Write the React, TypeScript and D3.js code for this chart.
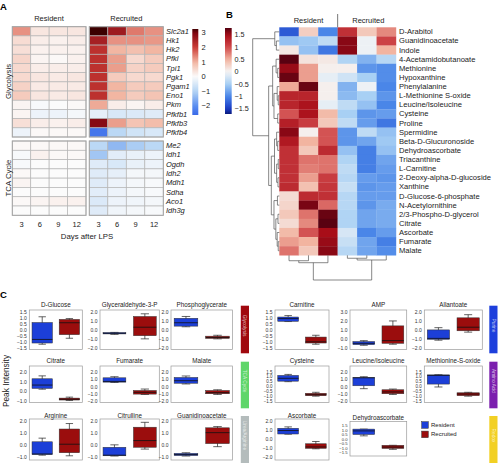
import React from "react";
import * as d3 from "d3";

const FONT = "'Liberation Sans', Arial, Helvetica, sans-serif";

// ---------- Panel A data ----------
const glyGenes = ["Slc2a1", "Hk1", "Hk2", "Pfkl", "Tpi1", "Pgk1", "Pgam1", "Eno1", "Pkm", "Pfkfb1", "Pfkfb3", "Pfkfb4"];
const tcaGenes = ["Me2", "Idh1", "Ogdh", "Idh2", "Mdh1", "Sdha", "Aco1", "Idh3g"];
const days = ["3", "6", "9", "12"];
const glyResident = [
  [1.3, 0.3, 0.3, 0.3],
  [0.45, 0.2, 0.15, 0.2],
  [0.4, 0.15, 0.15, 0.15],
  [0.55, 0.1, 0.05, 0.15],
  [0.5, 0.2, 0.2, 0.2],
  [0.5, 0.3, 0.25, 0.3],
  [0.6, 0.25, 0.25, 0.25],
  [0.7, 0.3, 0.25, 0.3],
  [0.1, -0.05, 0, 0.05],
  [0.1, -0.2, -0.2, -0.1],
  [0.4, 0.2, 0.15, 0.2],
  [-0.2, 0.05, 0.05, 0.05],
];
const glyRecruited = [
  [3.3, 2.6, 1.5, 1.3],
  [2.5, 1.3, 1.3, 1.25],
  [2.2, 1.0, 0.85, 1.0],
  [2.2, 1.2, 0.5, 0.7],
  [2.2, 1.2, 0.6, 0.7],
  [2.2, 0.7, 0.5, 0.5],
  [2.2, 1.0, 0.7, 0.7],
  [2.2, 1.0, 0.7, 0.8],
  [1.1, 0.2, 0.1, 0.2],
  [-0.3, -0.5, -0.45, -0.4],
  [2.9, 1.2, 0.8, 0.9],
  [-2.4, -0.9, -0.6, -0.5],
];
const tcaResident = [
  [0.05, 0.05, 0.05, 0.05],
  [-0.05, 0.15, 0.05, 0.05],
  [-0.05, 0, 0, 0],
  [0.05, 0, 0, 0],
  [0.1, 0, 0, 0],
  [0, 0, 0, 0],
  [0.05, 0.1, 0.15, 0.15],
  [0, 0, 0, 0],
];
const tcaRecruited = [
  [-0.9, -1.4, -1.1, -0.9],
  [-1.2, -0.35, -0.25, -0.2],
  [-0.4, -0.5, -0.25, -0.2],
  [-0.4, -0.3, -0.1, -0.1],
  [-0.4, -0.2, -0.1, -0.05],
  [-0.35, -0.2, -0.1, -0.05],
  [-0.45, -0.2, -0.15, -0.1],
  [-0.4, -0.15, -0.1, -0.05],
];
const colorbarATicks = [3, 2, 1, 0, -1, -2];

// ---------- Panel B data ----------
const metabolites = [
  "D-Arabitol", "Guanidinoacetate", "Indole", "4-Acetamidobutanoate", "Methionine", "Hypoxanthine",
  "Phenylalanine", "L-Methionine S-oxide", "Leucine/Isoleucine", "Cysteine", "Proline", "Spermidine",
  "Beta-D-Glucuronoside", "Dehydroascorbate", "Triacanthine", "L-Carnitine", "2-Deoxy-alpha-D-glucoside",
  "Xanthine", "D-Glucose-6-phosphate", "N-Acetylornithine", "2/3-Phospho-D-glycerol", "Citrate",
  "Ascorbate", "Fumarate", "Malate",
];
const metResident = [
  [-1.3, 0.3, -1.0], [-0.6, -0.55, -0.35], [0.1, -0.6, -1.1], [1.75, 0.15, 0.1], [1.55, 0.6, 0.05],
  [1.7, 0.6, -0.1], [0.55, 1.7, 0.05], [1.3, 1.3, 0.05], [1.3, 1.45, -0.1], [0.95, 1.45, 0.45],
  [1.35, 1.1, 0.35], [1.6, 0.05, 0.95], [1.4, 0.5, 0.95], [1.2, 0.35, 1.25], [1.2, 0.8, 0.8],
  [1.2, 0.75, 0.8], [1.2, 0.6, 1.1], [1.25, 0.4, 1.15], [0.2, 1.25, 1.2], [0.25, 1.65, 0.85],
  [0.35, 0.8, 1.7], [0.2, 0.7, 1.75], [0.45, 0.95, 1.5], [0.6, 0.5, 1.55], [0.8, 0.35, 1.6],
];
const metRecruited = [
  [1.2, 0.35, 0.7], [1.6, -0.05, 1.05], [1.6, -0.05, 0.5], [-0.45, -0.7, -0.4], [0.05, -0.9, -0.95],
  [-0.25, -0.5, -0.95], [-0.7, -0.05, -1.0], [-0.65, -0.5, -0.9], [-0.35, -0.6, -1.0], [-0.5, -0.9, -0.85],
  [-0.35, -0.85, -1.1], [-0.9, -0.35, -0.6], [-0.9, -0.8, -0.55], [-0.6, -1.05, -0.6], [-0.45, -1.05, -0.8],
  [-0.35, -1.05, -0.85], [-0.4, -0.85, -0.9], [-0.3, -0.9, -0.85], [-0.4, -0.85, -0.85], [-0.4, -0.9, -0.75],
  [-0.45, -0.8, -0.75], [-0.45, -0.8, -0.75], [-0.2, -1.0, -0.85], [-0.3, -0.8, -1.05], [-0.4, -0.8, -0.95],
];
const colorbarBTicks = [1.5, 1, 0.5, 0, -0.5, -1, -1.5];
type Node = number | [number, Node, Node];
const rowTree: Node = [
  1,
  [0.17, 0, [0.11, 1, 2]],
  [
    0.4,
    [0.25, [0.12, 3, [0.06, 4, 5]], [0.2, [0.08, 6, [0.04, 7, 8]], [0.06, 9, 10]]],
    [
      0.3,
      [0.18, [0.1, 11, [0.06, 12, 13]], [0.1, [0.04, 14, 15], [0.05, 16, 17]]],
      [0.2, [0.07, 18, 19], [0.13, [0.05, 20, 21], [0.08, 22, [0.04, 23, 24]]]],
    ],
  ],
];
const colTree: Node = [1, [0.3, [0.22, 0, 1], 2], [0.19, [0.12, 3, 4], 5]];

// ---------- Panel C data ----------
const boxTitles = [
  "D-Glucose", "Glyceraldehyde-3-P", "Phosphoglycerate", "Carnitine", "AMP", "Allantoate",
  "Citrate", "Fumarate", "Malate", "Cysteine", "Leucine/Isoleucine", "Methionine-S-oxide",
  "Arginine", "Citrulline", "Guanidinoacetate", "Ascorbate", "Dehydroascorbate",
];
const ticksHalf = [-1.5, -1, -0.5, 0, 0.5, 1, 1.5];
const ticksTwo = [-2, -1, 0, 1, 2];
const ticksThree = [-1, 0, 1, 2, 3];
const ticksArg = [-1, 0, 1, 2];
const boxTicks = [
  ticksHalf, ticksTwo, ticksTwo, ticksHalf, ticksThree, ticksTwo,
  ticksArg, ticksTwo, ticksTwo, ticksHalf, ticksTwo, ticksHalf,
  ticksArg, ticksArg, ticksArg, ticksTwo, ticksHalf,
];
// [low whisker, q1, median, q3, high whisker]
const residentStats = [
  [-1.2, -1.1, -0.8, 0.62, 1.1], [-0.5, -0.45, -0.38, -0.3, -0.28], [0.35, 0.42, 0.8, 1.3, 1.5],
  [0.7, 0.72, 0.95, 1.08, 1.2], [-0.72, -0.65, -0.5, -0.3, -0.2], [-1.15, -1.05, -0.95, 0.0, 0.25],
  [0.22, 0.3, 0.65, 1.3, 1.6], [0.55, 0.6, 0.7, 1.2, 1.35], [0.35, 0.45, 0.8, 1.25, 1.45],
  [0.5, 0.55, 0.85, 1.15, 1.25], [-0.3, 0.1, 1.2, 1.25, 1.35], [-0.05, 0.25, 1.15, 1.2, 1.22],
  [-0.85, -0.8, -0.75, 0.25, 0.55], [-0.92, -0.9, -0.85, -0.2, 0.0], [-0.92, -0.88, -0.8, -0.7, -0.65],
  [0.5, 0.52, 0.9, 1.15, 1.3], [0.35, 0.5, 0.9, 1.1, 1.1],
];
const recruitedStats = [
  [-0.7, -0.4, 0.6, 0.88, 0.95], [-1.0, -0.65, 0.3, 1.5, 1.8], [-1.0, -0.95, -0.85, -0.7, -0.6],
  [-1.2, -1.1, -1.0, -0.6, -0.45], [-0.6, -0.5, -0.2, 1.45, 2.0], [-0.25, -0.1, 0.3, 1.35, 1.7],
  [-0.95, -0.9, -0.82, -0.7, -0.6], [-1.1, -1.05, -0.8, -0.55, -0.35], [-1.1, -1.0, -0.85, -0.55, -0.45],
  [-1.0, -0.95, -0.85, -0.7, -0.6], [-1.1, -1.0, -0.75, -0.45, -0.35], [-1.0, -0.95, -0.78, -0.65, -0.6],
  [-0.9, -0.65, 0.05, 1.3, 1.75], [-0.35, -0.2, 0.35, 1.45, 1.85], [-0.15, 0.1, 1.0, 1.4, 1.5],
  [-1.1, -1.05, -0.9, -0.55, -0.3], [-1.15, -1.05, -0.9, -0.7, -0.7],
];
const groups = ["Resident", "Recruited"];
const groupColors = ["#1c3fd8", "#9b0d0d"];
const categories = ["Glycolysis", "TCA Cycle", "Urea/Arginine", "Purine", "Amino Acid", "Redox"];
const categoryColors = ["#a0080e", "#5fd66a", "#b4bcbc", "#1d3fdc", "#7b1fae", "#f2d024"];

// ---------- layout ----------
const cFrameX = [[29.3, 82.3], [100, 159.3], [171, 232.5], [275, 329], [350, 406.7], [424.3, 482.3]];
const cRows = [
  { title: 306.5, top: 310, bottom: 349.5, tTop: 312, tBot: 347.8, barTop: 305.7, barBot: 353.3 },
  { title: 363.2, top: 366, bottom: 402.5, tTop: 372, tBot: 401, barTop: 361.7, barBot: 408.3 },
  { title: 418.2, top: 419, bottom: 460, tTop: 420.5, tBot: 457, barTop: 416, barBot: 463 },
];

const colorA = d3
  .scaleLinear<string>()
  .domain([-2.6, -2, -1, 0, 1, 2, 3, 3.3])
  .range(["#3a6ae8", "#5a8ef0", "#b4d4f4", "#fbfbfb", "#f2b6a2", "#cc3c36", "#7e0410", "#3c0000"])
  .clamp(true);
const colorB = d3
  .scaleLinear<string>()
  .domain([-1.72, -1.5, -1, -0.5, 0, 0.5, 1, 1.5, 1.78])
  .range(["#0a1a7a", "#1a3cc8", "#4a86e8", "#a8d0f4", "#f5f5f5", "#f2b4a0", "#d0484a", "#a80d18", "#500010"])
  .clamp(true);

const fmtMinus = (s: string) => s.replace("-", "\u2212");

function dendro(tree: Node, leafPos: (i: number) => number) {
  const segs: [number, number, number, number][] = [];
  const walk = (n: Node): { p: number; h: number } => {
    if (typeof n === "number") return { p: leafPos(n), h: 0 };
    const [h, a, b] = n;
    const A = walk(a);
    const B = walk(b);
    segs.push([A.h, A.p, h, A.p]);
    segs.push([B.h, B.p, h, B.p]);
    segs.push([h, A.p, h, B.p]);
    return { p: (A.p + B.p) / 2, h };
  };
  walk(tree);
  return segs;
}

function HeatBlock({ genes, values, y, x }: { genes: string[]; values: number[][]; y: d3.ScaleBand<string>; x: d3.ScaleBand<string> }) {
  const [x0, x1] = x.range();
  const [y0, y1] = y.range();
  return (
    <g>
      {genes.map((g, r) =>
        days.map((d, c) => (
          <rect key={g + d} x={x(d)} y={y(g)} width={x.bandwidth()} height={y.bandwidth()} fill={colorA(values[r][c])} stroke="#b6b6b6" strokeWidth={0.7} />
        ))
      )}
      <rect x={x0} y={y0} width={x1 - x0} height={y1 - y0} fill="none" stroke="#a4a4a4" strokeWidth={1} />
    </g>
  );
}

export default function App() {
  // Panel A scales
  const glyY = d3.scaleBand<string>().domain(glyGenes).range([26.7, 137]);
  const tcaY = d3.scaleBand<string>().domain(tcaGenes).range([141, 215.3]);
  const resX = d3.scaleBand<string>().domain(days).range([12.3, 86]);
  const recX = d3.scaleBand<string>().domain(days).range([89.3, 163.3]);
  const cbA = d3.scaleLinear().domain([-2.62, 3.26]).range([115, 29]);
  const cbAStops = d3.range(0, 1.0001, 0.05).map((t) => {
    const v = cbA.invert(29 + t * 86);
    return { off: t, col: colorA(v) };
  });

  // Panel B scales
  const bx = d3.scaleBand<number>().domain(d3.range(6)).range([279.3, 396]);
  const by = d3.scaleBand<string>().domain(metabolites).range([27.3, 255.3]);
  const cbB = d3.scaleLinear().domain([-1.72, 1.78]).range([114, 28]);
  const cbBStops = d3.range(0, 1.0001, 0.05).map((t) => ({ off: t, col: colorB(cbB.invert(28 + t * 86)) }));
  const rowH = d3.scaleLinear().domain([0, 1]).range([279.3, 252.7]);
  const colH = d3.scaleLinear().domain([0, 1]).range([255.3, 280]);
  const rowSegs = dendro(rowTree, (i) => (by(metabolites[i]) as number) + by.bandwidth() / 2);
  const colSegs = dendro(colTree, (i) => (bx(i) as number) + bx.bandwidth() / 2);

  const fmt = d3.format(".1f");

  return (
    <svg width={500} height={463} style={{ position: "absolute", left: 0, top: 0, background: "#fff" }} fontFamily={FONT}>
      <rect x={0} y={0} width={500} height={463} fill="#fff" />
      {/* ================= Panel A ================= */}
      <text x={0} y={10} fontSize={9.5} fontWeight="bold">A</text>
      <text x={49} y={20.5} fontSize={7.5} textAnchor="middle" fill="#222">Resident</text>
      <text x={126.3} y={20.5} fontSize={7.5} textAnchor="middle" fill="#222">Recruited</text>
      <HeatBlock genes={glyGenes} values={glyResident} y={glyY} x={resX} />
      <HeatBlock genes={glyGenes} values={glyRecruited} y={glyY} x={recX} />
      <HeatBlock genes={tcaGenes} values={tcaResident} y={tcaY} x={resX} />
      <HeatBlock genes={tcaGenes} values={tcaRecruited} y={tcaY} x={recX} />
      {glyGenes.map((g) => (
        <text key={g} x={166} y={(glyY(g) as number) + glyY.bandwidth() / 2} dominantBaseline="central" fontSize={7.5} fontStyle="italic" fill="#222">{g}</text>
      ))}
      {tcaGenes.map((g) => (
        <text key={g} x={166} y={(tcaY(g) as number) + tcaY.bandwidth() / 2} dominantBaseline="central" fontSize={7.5} fontStyle="italic" fill="#222">{g}</text>
      ))}
      <text transform="translate(8.5,81.5) rotate(-90)" textAnchor="middle" dominantBaseline="central" fontSize={7.8} fill="#222">Glycolysis</text>
      <text transform="translate(8.5,178) rotate(-90)" textAnchor="middle" dominantBaseline="central" fontSize={7.8} fill="#222">TCA Cycle</text>
      {days.map((d) => (
        <g key={"t" + d}>
          <text x={(resX(d) as number) + resX.bandwidth() / 2} y={227} textAnchor="middle" fontSize={7.5} fill="#222">{d}</text>
          <text x={(recX(d) as number) + recX.bandwidth() / 2} y={227} textAnchor="middle" fontSize={7.5} fill="#222">{d}</text>
        </g>
      ))}
      <text x={87} y={238.5} textAnchor="middle" fontSize={7.8} fill="#222">Days after LPS</text>
      <defs>
        <linearGradient id="gradA" x1="0" y1="0" x2="0" y2="1">
          {cbAStops.map((s, i) => (
            <stop key={i} offset={s.off} stopColor={s.col} />
          ))}
        </linearGradient>
        <linearGradient id="gradB" x1="0" y1="0" x2="0" y2="1">
          {cbBStops.map((s, i) => (
            <stop key={i} offset={s.off} stopColor={s.col} />
          ))}
        </linearGradient>
      </defs>
      <rect x={192.3} y={29} width={6} height={86} fill="url(#gradA)" />
      {colorbarATicks.map((t) => (
        <text key={t} x={201.5} y={cbA(t)} dominantBaseline="central" fontSize={7.5} fill="#222">{fmtMinus(String(t))}</text>
      ))}

      {/* ================= Panel B ================= */}
      <text x={226} y={18} fontSize={9.5} fontWeight="bold">B</text>
      <rect x={225} y={28} width={6.7} height={86} fill="url(#gradB)" />
      {colorbarBTicks.map((t) => (
        <text key={t} x={234.5} y={cbB(t)} dominantBaseline="central" fontSize={7.2} fill="#222">{fmtMinus(String(t))}</text>
      ))}
      <text x={308.5} y={22.5} textAnchor="middle" fontSize={7.5} fill="#222">Resident</text>
      <text x={368.3} y={22.5} textAnchor="middle" fontSize={7.5} fill="#222">Recruited</text>
      <line x1={bx(3)} x2={bx(3)} y1={14} y2={27.3} stroke="#555" strokeWidth={0.8} />
      {metabolites.map((m, r) =>
        d3.range(6).map((c) => (
          <rect key={m + c} x={bx(c)} y={by(m)} width={bx.bandwidth() + 0.2} height={by.bandwidth() + 0.2}
            fill={colorB(c < 3 ? metResident[r][c] : metRecruited[r][c - 3])} />
        ))
      )}
      {metabolites.map((m) => (
        <text key={"l" + m} x={399} y={(by(m) as number) + by.bandwidth() / 2} dominantBaseline="central" fontSize={7.6} fill="#222">{m}</text>
      ))}
      {rowSegs.map((s, i) => (
        <line key={"r" + i} x1={rowH(s[0])} y1={s[1]} x2={rowH(s[2])} y2={s[3]} stroke="#555" strokeWidth={0.7} />
      ))}
      {colSegs.map((s, i) => (
        <line key={"c" + i} x1={s[1]} y1={colH(s[0])} x2={s[3]} y2={colH(s[2])} stroke="#555" strokeWidth={0.7} />
      ))}

      {/* ================= Panel C ================= */}
      <text x={0} y={298} fontSize={9.5} fontWeight="bold">C</text>
      <text transform="translate(6,381) rotate(-90)" textAnchor="middle" dominantBaseline="central" fontSize={8.3} fill="#222">Peak Intensity</text>
      {boxTitles.map((title, i) => {
        const row = Math.floor(i / 6);
        const col = i % 6;
        const L = cRows[row];
        const isSmall = i === 16;
        const top = isSmall ? 421.5 : L.top;
        const bottom = isSmall ? 456 : L.bottom;
        const tTop = isSmall ? 425.5 : L.tTop;
        const tBot = isSmall ? 452.5 : L.tBot;
        const titleY = isSmall ? 419.6 : L.title;
        const [fx0, fx1] = cFrameX[col];
        const ticks = boxTicks[i];
        const y = d3.scaleLinear().domain([ticks[0], ticks[ticks.length - 1]]).range([tBot, tTop]);
        const x = d3.scaleBand<string>().domain(groups).range([fx0, fx1]).paddingInner(0.25).paddingOuter(0.1);
        const bw = x.bandwidth();
        const stats = [residentStats[i], recruitedStats[i]];
        const spacing = (tBot - tTop) / (ticks.length - 1);
        const tickFont = Math.min(5, spacing * 0.93);
        return (
          <g key={title}>
            <text x={(fx0 + fx1) / 2} y={titleY} textAnchor="middle" fontSize={6.3} fill="#222">{title}</text>
            <rect x={fx0} y={top} width={fx1 - fx0} height={bottom - top} fill="none" stroke="#9a9a9a" strokeWidth={0.7} />
            {ticks.map((t) => (
              <text key={t} x={fx0 - 2.5} y={y(t)} textAnchor="end" dominantBaseline="central" fontSize={tickFont} fill="#333">{fmtMinus(fmt(t))}</text>
            ))}
            {groups.map((g, gi) => {
              const [lo, q1, med, q3, hi] = stats[gi];
              const cx = (x(g) as number) + bw / 2;
              const cap = bw * 0.18;
              return (
                <g key={g}>
                  <line x1={cx} x2={cx} y1={y(lo)} y2={y(hi)} stroke="#222" strokeWidth={0.7} />
                  <line x1={cx - cap} x2={cx + cap} y1={y(lo)} y2={y(lo)} stroke="#222" strokeWidth={0.7} />
                  <line x1={cx - cap} x2={cx + cap} y1={y(hi)} y2={y(hi)} stroke="#222" strokeWidth={0.7} />
                  <rect x={x(g)} y={y(q3)} width={bw} height={Math.max(0.8, y(q1) - y(q3))} fill={groupColors[gi]} stroke="#333" strokeWidth={0.5} />
                  <line x1={x(g)} x2={(x(g) as number) + bw} y1={y(med)} y2={y(med)} stroke="#111" strokeWidth={0.8} />
                </g>
              );
            })}
          </g>
        );
      })}
      {/* legend */}
      {groups.map((g, gi) => (
        <g key={"leg" + g}>
          <rect x={421.7} y={421.7 + gi * 9.4} width={6.6} height={6.6} fill={groupColors[gi]} stroke="#333" strokeWidth={0.5} />
          <text x={431} y={425 + gi * 9.4} dominantBaseline="central" fontSize={6} fill="#222">{g}</text>
        </g>
      ))}
      {/* category bars */}
      {categories.map((c, i) => {
        const row = i % 3;
        const L = cRows[row];
        const bxl = i < 3 ? 240.8 : 489.3;
        const cy = (L.barTop + L.barBot) / 2 - 4;
        return (
          <g key={c}>
            <rect x={bxl} y={L.barTop} width={8.2} height={L.barBot - L.barTop} fill={categoryColors[i]} />
            <text transform={`translate(${bxl + 4.1},${cy}) rotate(90)`} textAnchor="middle" dominantBaseline="central" fontSize={4.8} fill="rgba(255,255,255,0.72)">{c}</text>
          </g>
        );
      })}
    </svg>
  );
}
